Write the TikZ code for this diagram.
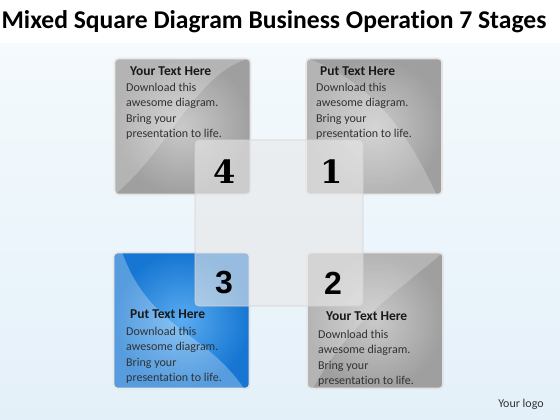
\documentclass[tikz,border=0pt]{standalone}
\usepackage{fontspec}
\setmainfont{Carlito}[Ligatures=NoCommon]
\newfontfamily\slabfont{DejaVu Serif}
\newfontfamily\blackfont{Liberation Sans}
\usepackage{tikz}
\usetikzlibrary{positioning}

\definecolor{bgtop}{RGB}{244,250,253}
\definecolor{bgbot}{RGB}{228,240,249}
\definecolor{bluein}{RGB}{90,172,240}
\definecolor{blueout}{RGB}{22,118,210}
\definecolor{bodygray}{RGB}{50,50,50}

\begin{document}
\begin{tikzpicture}[x=1pt,y=-1pt,
  panel/.style={draw=gray!22,line width=1.6pt,rounded corners=4pt,
    minimum size=136pt,inner sep=0pt},
  graypanel/.style={panel,inner color=gray!42,outer color=gray!75},
  bluepanel/.style={panel,inner color=bluein,outer color=blueout},
  heading/.style={anchor=base west,inner sep=0pt,font=\fontsize{13.5}{15}\selectfont\bfseries,text=black!90},
  body/.style={anchor=north west,inner sep=0pt,align=left,
    font=\fontsize{12}{15.3}\selectfont,text=bodygray},
  digit/.style={inner sep=0pt,text=black,font=\fontsize{32}{32}\selectfont\bfseries},
  swoosh/.style={white,opacity=.22}]
\useasboundingbox (0,0) rectangle (560,420);
% background
\fill[white] (0,0) rectangle (560,44);
\shade[top color=bgtop,bottom color=bgbot] (0,44) rectangle (560,420);
\node (title) at (274,22) {\fontsize{25.6}{28}\selectfont\bfseries Mixed Square Diagram Business Operation 7 Stages};

% four squares
\node[graypanel] (sq4) at (182.5,126.5) {};
\node[graypanel] (sq1) at (374,126.5) {};
\node[bluepanel] (sq3) at (181.5,320.5) {};
\node[graypanel] (sq2) at (375,320.5) {};

% light sweeps
\begin{scope}
\clip[rounded corners=4pt] (sq4.north west) rectangle (sq4.south east);
\fill[swoosh] (sq4.north west) -- (sq4.south west) .. controls (170,150) and (195,72) .. (sq4.north east) -- cycle;
\end{scope}
\begin{scope}
\clip[rounded corners=4pt] (sq1.north west) rectangle (sq1.south east);
\fill[swoosh] (sq1.north west) .. controls (365,78) and (405,125) .. (437,196) -- (sq1.south west) -- cycle;
\end{scope}
\begin{scope}
\clip[rounded corners=4pt] (sq3.north west) rectangle (sq3.south east);
\fill[white,opacity=.28] (122,252) .. controls (150,330) and (205,330) .. (245,390) -- (sq3.south west) -- (sq3.north west) -- cycle;
\end{scope}
\begin{scope}
\clip[rounded corners=4pt] (sq2.north west) rectangle (sq2.south east);
\fill[swoosh] (sq2.north east) .. controls (400,290) and (350,320) .. (312,390) -- (sq2.south west) -- (sq2.north west) -- cycle;
\end{scope}

% middle square
\node[draw=gray!35,line width=.8pt,fill=gray!18,fill opacity=.62,rounded corners=4pt,
  minimum width=168pt,minimum height=166pt,inner sep=0pt] (mid) at (279,223) {};

% texts
\node[heading] (h4) at (130,76) {Your Text Here};
\node[body] (t4) at (126,83) {Download this\\awesome diagram.\\Bring your\\presentation to life.};
\node[heading] (h1) at (320,76) {Put Text Here};
\node[body] (t1) at (316,83) {Download this\\awesome diagram.\\Bring your\\presentation to life.};
\node[heading] (h3) at (130,318) {Put Text Here};
\node[body] (t3) at (126,327) {Download this\\awesome diagram.\\Bring your\\presentation to life.};
\node[heading] (h2) at (326,320) {Your Text Here};
\node[body] (t2) at (318,330) {Download this\\awesome diagram.\\Bring your\\presentation to life.};

% numbers
\node[digit] (n4) at (225,172) {\slabfont 4};
\node[digit] (n1) at (332,172) {\slabfont 1};
\node[digit] (n3) at (224,283) {\blackfont 3};
\node[digit] (n2) at (333,283) {\blackfont 2};

\node (logo) at (521,404) {\fontsize{12}{14}\selectfont\color{black!80}Your logo};
\end{tikzpicture}
\end{document}
